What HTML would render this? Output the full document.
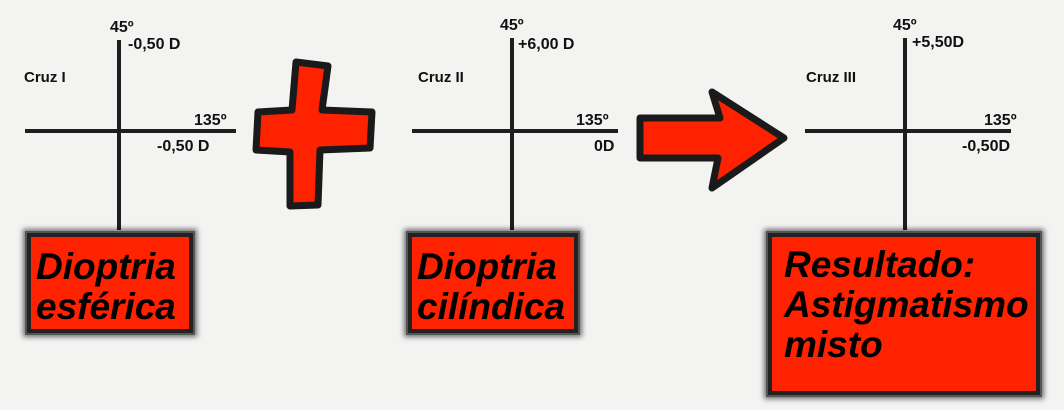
<!DOCTYPE html>
<html><head><meta charset="utf-8">
<style>
body{margin:0;}
#stage{position:relative;width:1064px;height:410px;background:#f3f3f2;overflow:hidden;font-family:"Liberation Sans",sans-serif;}
.l{position:absolute;background:#1e1e1e;}
.t{position:absolute;font-weight:bold;font-size:16px;color:#111;white-space:nowrap;line-height:1;}
.box{position:absolute;background:#ff2200;border:4px solid #222;box-shadow:0 0 0 2px #555,0 0 5px 4px rgba(0,0,0,.55);box-sizing:border-box;font-weight:bold;font-style:italic;font-size:37px;line-height:40px;color:#000;padding:10px 0 0 5px;white-space:nowrap;}
</style></head><body>
<div id="stage">
<div class="l" style="left:117px;top:40px;width:4px;height:190px"></div>
<div class="l" style="left:25px;top:129px;width:211px;height:4px"></div>
<div class="t" style="left:110px;top:20px">45º</div>
<div class="t" style="left:128px;top:37px">-0,50 D</div>
<div class="t" style="left:24px;top:70px;font-size:15px">Cruz I</div>
<div class="t" style="left:194px;top:113px">135º</div>
<div class="t" style="left:157px;top:139px">-0,50 D</div>
<div class="box" style="left:27px;top:233px;width:166px;height:100px">Dioptria<br>esférica</div>
<svg style="position:absolute;left:0;top:0" width="1064" height="410">
<path d="M296 62 L328 66 L322 110 L372 112 L370 148 L320 150 L318 205 L290 206 L290 152 L256 150 L258 112 L292 110 Z" fill="#ff2200" stroke="#1a1a1a" stroke-width="7" stroke-linejoin="round"/>
<path d="M640 118 L720 118 L712 92 L784 138 L712 188 L718 158 L640 158 Z" fill="#ff2200" stroke="#1a1a1a" stroke-width="7" stroke-linejoin="round"/>
</svg>
<div class="l" style="left:510px;top:38px;width:4px;height:192px"></div>
<div class="l" style="left:412px;top:129px;width:206px;height:4px"></div>
<div class="t" style="left:500px;top:18px">45º</div>
<div class="t" style="left:518px;top:37px">+6,00 D</div>
<div class="t" style="left:418px;top:70px;font-size:15px">Cruz II</div>
<div class="t" style="left:576px;top:113px">135º</div>
<div class="t" style="left:594px;top:139px">0D</div>
<div class="box" style="left:408px;top:233px;width:170px;height:100px">Dioptria<br>cilíndica</div>
<div class="l" style="left:903px;top:38px;width:4px;height:192px"></div>
<div class="l" style="left:805px;top:129px;width:206px;height:4px"></div>
<div class="t" style="left:893px;top:18px">45º</div>
<div class="t" style="left:912px;top:35px">+5,50D</div>
<div class="t" style="left:806px;top:70px;font-size:15px">Cruz III</div>
<div class="t" style="left:984px;top:113px">135º</div>
<div class="t" style="left:962px;top:139px">-0,50D</div>
<div class="box" style="left:768px;top:233px;width:272px;height:162px;padding-top:8px;padding-left:12px">Resultado:<br>Astigmatismo<br>misto</div>
</div>
</body></html>
